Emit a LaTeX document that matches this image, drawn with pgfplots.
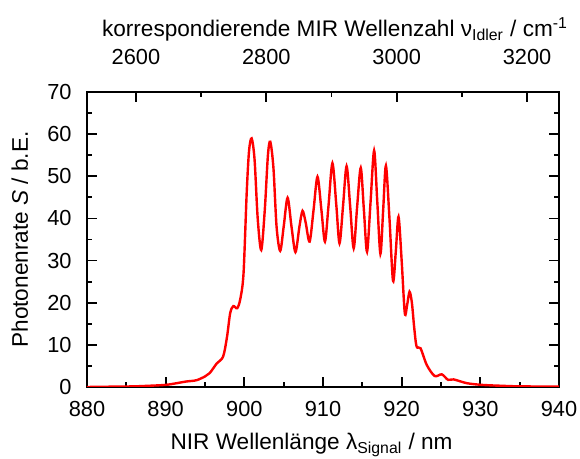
\documentclass[border=0pt]{standalone}
\usepackage{fontspec}
\setmainfont{Liberation Sans}
\usepackage{pgfplots}
\pgfplotsset{compat=1.18}

\pgfplotsset{
  common/.style={
    width=236pt, height=147.5pt, scale only axis,
    /pgf/number format/assume math mode=true,
    tick style={black, line width=0.9pt},
    major tick length=5pt, minor tick length=2.6pt,
    axis line style={line width=1.1pt},
    tick label style={font=\fontsize{10.9}{12}\selectfont, inner sep=0pt},
    label style={font=\fontsize{11.3}{13}\selectfont, inner sep=0pt},
    tick align=inside,
  }
}

\begin{document}
\begin{tikzpicture}
\path[use as bounding box] (-43.5pt,-36pt) rectangle (246.5pt,193.5pt);
\begin{axis}[
  common,
  xmin=880, xmax=940, ymin=0, ymax=70,
  xtick={880,890,...,940}, minor x tick num=1,
  ytick={0,10,...,70}, minor y tick num=1,
  xtick pos=bottom, ytick pos=both,
  xticklabel style={anchor=base, yshift=-14.8pt},
  yticklabel style={anchor=east, xshift=-7.5pt},
  xlabel={NIR Wellenlänge λ\textsubscript{Signal} / nm},
  ylabel={Photonenrate \textit{S} / b.E.},
  xlabel style={at={([xshift=-5.7pt,yshift=-31.5pt]axis description cs:0.5,0)}, anchor=base},
  ylabel style={at={([xshift=-29.5pt]axis description cs:0,0.5)}, anchor=base, rotate=0},
  /pgf/number format/.cd, 1000 sep={},
]
\addplot[red, line width=1.2pt, smooth, tension=0.5] coordinates {
(880,0.0) (882,0.05) (884,0.1) (886,0.15) (888,0.3) (890,0.5)
(891.4,0.9) (892.6,1.3) (893.9,1.6) (895.0,2.5) (895.6,3.3)
(896.5,5.6) (897.3,7.2) (897.8,11.9) (898.2,17.5) (898.6,19.2)
(899.1,18.7) (899.5,21) (899.9,27) (900.3,46) (900.6,56)
(900.93,59.0) (901.3,54) (901.7,40) (902.15,32.5) (902.6,42)
(903.0,55) (903.3,58.2) (903.7,52) (904.1,38) (904.56,32.3)
(905.0,38) (905.5,44.9) (906.0,38) (906.5,32.0) (907.0,38)
(907.4,41.8) (907.8,39) (908.3,34.5) (908.8,42) (909.3,49.9)
(909.8,42) (910.25,34.5) (910.7,43) (911.2,53.1) (911.7,43)
(912.1,34.1) (912.55,43) (913.0,52.4) (913.45,43) (913.9,32.9)
(914.35,43) (914.8,52.0) (915.2,42) (915.6,32.1) (916.05,44)
(916.5,56.1) (916.9,44) (917.3,31.6) (917.65,42) (918.0,52.5)
(918.45,40) (918.9,25.2) (919.25,32) (919.6,40.4) (920.0,30)
(920.4,17.5) (920.7,19.5) (921.0,22.6) (921.3,20) (921.6,14)
(921.9,9.6) (922.4,9.2) (923.2,5.2) (924.2,2.6) (925.1,3.0)
(925.9,1.7) (926.6,1.8) (928.3,0.9) (930.2,0.5) (932.5,0.3)
(935,0.15) (940,0.1)
};
\end{axis}
\begin{axis}[
  common,
  xmin=2525, xmax=3249, ymin=0, ymax=70,
  axis x line*=top, axis y line=none,
  xtick={2600,2800,3000,3200}, minor x tick num=1,
  xticklabel style={anchor=base, yshift=13.5pt},
  xlabel={korrespondierende MIR Wellenzahl ν\textsubscript{Idler} / cm\textsuperscript{-1}},
  xlabel style={at={([xshift=6pt,yshift=27.7pt]axis description cs:0.5,1)}, anchor=base},
  /pgf/number format/.cd, 1000 sep={},
]
\end{axis}
\end{tikzpicture}
\end{document}
